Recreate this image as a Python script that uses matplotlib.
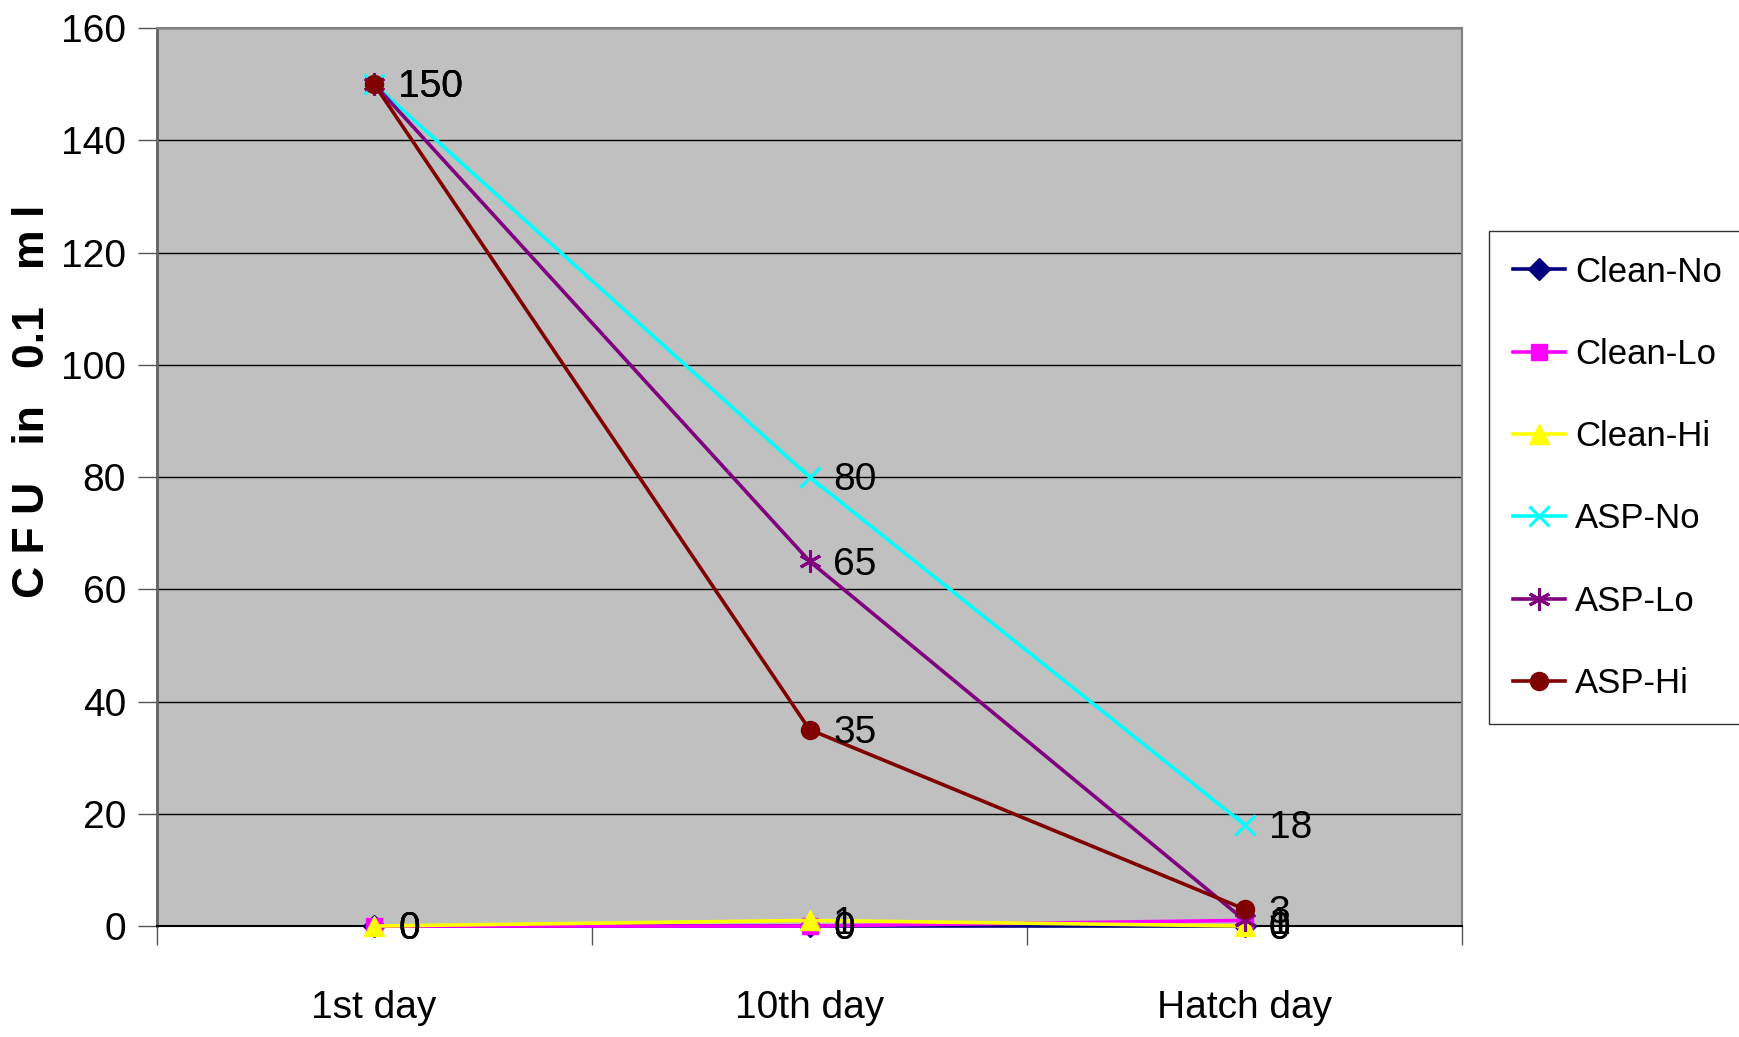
import matplotlib
matplotlib.use("Agg")
import matplotlib.pyplot as plt
import numpy as np

# bacterial counts per sampling day
days = ["1st day", "10th day", "Hatch day"]
series_names = ["Clean-No", "Clean-Lo", "Clean-Hi", "ASP-No", "ASP-Lo", "ASP-Hi"]
clean_no = [0, 0, 0]
clean_lo = [0, 0, 1]
clean_hi = [0, 1, 0]
asp_no = [150, 80, 18]
asp_lo = [150, 65, 1]
asp_hi = [150, 35, 3]

colors = ["#000080", "#FF00FF", "#FFFF00", "#00FFFF", "#800080", "#800000"]
markers = ["D", "s", "^", "x", (6, 2, 0), "o"]
msizes = [11, 11, 14, 15, 16, 13]

plt.rcParams['font.family'] = ['Liberation Sans', 'DejaVu Sans']


def main():
  fig = plt.figure(figsize=(17.39, 10.37), dpi=100)
  ax = fig.add_axes([0.090, 0.107, 0.751, 0.866])
  ax.set_facecolor("#C0C0C0")

  x = np.arange(len(days)) + 0.5
  all_vals = [clean_no, clean_lo, clean_hi, asp_no, asp_lo, asp_hi]

  for i, vals in enumerate(all_vals):
    mew = 2.2 if markers[i] in ("x", (6, 2, 0)) else 1
    ax.plot(x, vals, color=colors[i], marker=markers[i], markersize=msizes[i],
            markeredgewidth=mew, linewidth=2.6, label=series_names[i],
            clip_on=False, zorder=3 + i)
    for xi, v in zip(x, vals):
      ax.text(xi + 0.055, v - 0.6, str(v), fontsize=28, va="center", ha="left",
              color="black", zorder=20)

  ax.set_xlim(0, 3)
  ax.set_ylim(0, 160)
  ax.set_yticks(np.arange(0, 161, 20))
  ax.yaxis.grid(True, color="black", linewidth=1.0)
  ax.set_axisbelow(True)

  ax.set_xticks([0, 1, 2, 3])
  ax.set_xticklabels([])
  ax.set_xticks(x, minor=True)
  ax.set_xticklabels(days, minor=True, fontsize=28)
  ax.tick_params(axis="x", which="major", direction="out", length=14, width=1, color="#555555")
  ax.tick_params(axis="x", which="minor", length=0, pad=46)
  ax.tick_params(axis="y", direction="out", length=14, width=1, labelsize=28, pad=8,
                 color="#555555")

  for side in ["top", "right"]:
    ax.spines[side].set_color("#808080")
    ax.spines[side].set_linewidth(1.5)
  ax.spines["left"].set_color("#606060")
  ax.spines["left"].set_linewidth(2)
  ax.spines["bottom"].set_color("black")
  ax.spines["bottom"].set_linewidth(1.5)

  ax.set_ylabel("C F U   in   0.1   m l", fontsize=32, fontweight="bold")
  ax.yaxis.set_label_coords(-0.079, 0.584)

  leg = fig.legend(loc="upper left", bbox_to_anchor=(0.856, 0.777), fontsize=25,
                   frameon=True, fancybox=False, edgecolor="black",
                   handlelength=1.5, handletextpad=0.3, labelspacing=1.42,
                   borderpad=0.7, borderaxespad=0)
  leg.get_frame().set_linewidth(1.0)

  fig.savefig("out.png", dpi=100)


if __name__ == "__main__":
  main()
